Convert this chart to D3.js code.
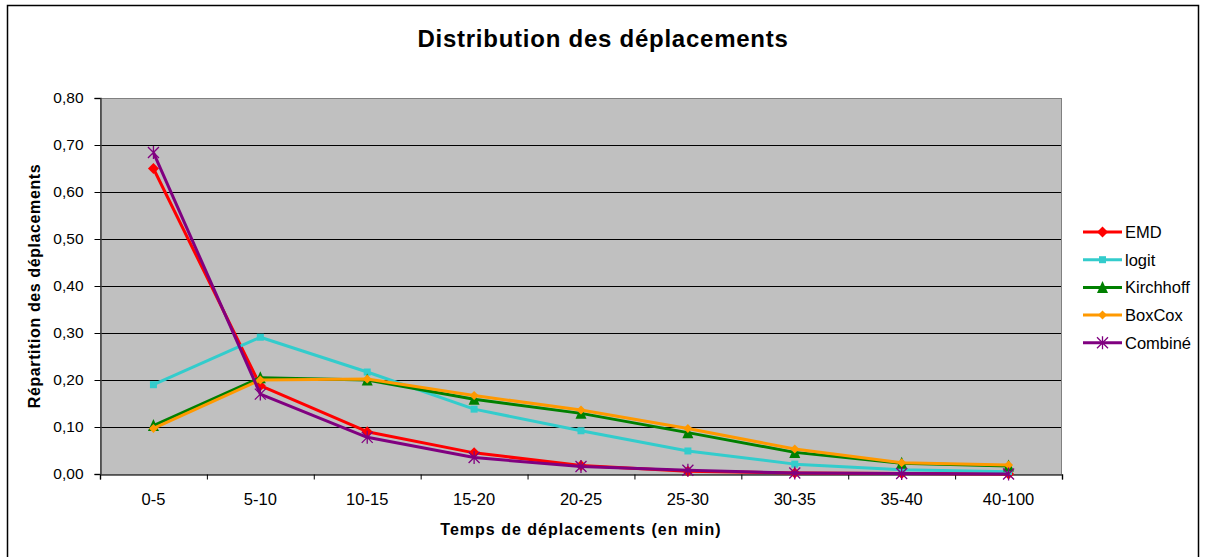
<!DOCTYPE html>
<html>
<head>
<meta charset="utf-8">
<script src="https://cdn.jsdelivr.net/npm/d3@7"></script>
<style>
  html, body { margin: 0; padding: 0; background: #fff; }
  svg { display: block; font-family: "Liberation Sans", Arial, sans-serif; }
</style>
</head>
<body>
<svg id="chart" width="1205" height="557"></svg>
<script>
// Travel-time classes (minutes)
const categories = ["0-5", "5-10", "10-15", "15-20", "20-25", "25-30", "30-35", "35-40", "40-100"];

// Share of trips per class, one array per model
const emd       = [0.650, 0.188, 0.090, 0.045, 0.018, 0.006, 0.002, 0.001, 0.000];
const logit     = [0.190, 0.291, 0.217, 0.138, 0.092, 0.049, 0.021, 0.009, 0.005];
const kirchhoff = [0.103, 0.205, 0.200, 0.159, 0.129, 0.088, 0.046, 0.023, 0.017];
const boxcox    = [0.097, 0.200, 0.202, 0.167, 0.136, 0.097, 0.053, 0.024, 0.019];
const combine   = [0.684, 0.170, 0.078, 0.035, 0.016, 0.008, 0.002, 0.001, 0.000];

const seriesNames = ["EMD", "logit", "Kirchhoff", "BoxCox", "Combiné"];
const yTicks = [0, 0.1, 0.2, 0.3, 0.4, 0.5, 0.6, 0.7, 0.8];

const series = [
  { name: seriesNames[0], values: emd,       color: "#FF0000", marker: "diamond",  size: 11 },
  { name: seriesNames[1], values: logit,     color: "#33CCCC", marker: "square",   size: 7 },
  { name: seriesNames[2], values: kirchhoff, color: "#008000", marker: "triangle", size: 11 },
  { name: seriesNames[3], values: boxcox,    color: "#FF9900", marker: "diamond",  size: 9 },
  { name: seriesNames[4], values: combine,   color: "#800080", marker: "star",     size: 11 }
];

const svg = d3.select("#chart");

// Outer chart frame
svg.append("rect")
  .attr("x", 7.5).attr("y", 5.5)
  .attr("width", 1191).attr("height", 553)
  .attr("fill", "#fff").attr("stroke", "#000").attr("stroke-width", 1.5);

const plot = { left: 100, top: 98, right: 1062, bottom: 474 };

const x = d3.scaleBand().domain(categories).range([plot.left, plot.right]).padding(0);
const xc = d => x(d) + x.bandwidth() / 2;
const y = d3.scaleLinear().domain([0, 0.8]).range([plot.bottom, plot.top]);

// Plot background
svg.append("rect")
  .attr("x", plot.left).attr("y", plot.top)
  .attr("width", plot.right - plot.left).attr("height", plot.bottom - plot.top)
  .attr("fill", "#C0C0C0");

// Horizontal gridlines
svg.append("g")
  .selectAll("line")
  .data(yTicks.filter(d => d > 0 && d < 0.8))
  .join("line")
  .attr("x1", plot.left).attr("x2", plot.right)
  .attr("y1", d => Math.round(y(d)) + 0.5).attr("y2", d => Math.round(y(d)) + 0.5)
  .attr("stroke", "#000").attr("stroke-width", 1);

// Plot border (grey)
svg.append("rect")
  .attr("x", plot.left + 0.5).attr("y", plot.top + 0.5)
  .attr("width", plot.right - plot.left - 1).attr("height", plot.bottom - plot.top)
  .attr("fill", "none").attr("stroke", "#808080").attr("stroke-width", 1);

// Y axis
const fmt = d => d3.format(".2f")(d).replace(".", ",");
const yAxis = svg.append("g")
  .attr("transform", `translate(${plot.left + 0.5},0)`)
  .call(d3.axisLeft(y).tickValues(yTicks).tickFormat(fmt).tickSize(6).tickPadding(11));
yAxis.select(".domain").attr("stroke", "#404040").attr("stroke-width", 1.5);
yAxis.selectAll(".tick line").attr("stroke", "#000");
yAxis.selectAll(".tick text").attr("font-size", 15.5).attr("fill", "#000")
  .attr("font-family", "'Liberation Sans', Arial, sans-serif");

// X axis: tick marks at class boundaries, labels at class centres
const xb = d3.scaleLinear().domain([0, categories.length]).range([plot.left, plot.right]);
const xAxis = svg.append("g")
  .attr("transform", `translate(0,${plot.bottom + 0.5})`)
  .call(d3.axisBottom(xb).tickValues(d3.range(categories.length + 1)).tickFormat("").tickSize(5));
xAxis.select(".domain").attr("stroke", "#404040").attr("stroke-width", 1.5);
xAxis.selectAll(".tick line").attr("stroke", "#000");

svg.append("g")
  .selectAll("text")
  .data(categories)
  .join("text")
  .attr("x", d => xc(d))
  .attr("y", 505)
  .attr("text-anchor", "middle")
  .attr("font-size", 16.5)
  .text(d => d);

// Titles
svg.append("text")
  .attr("x", 603).attr("y", 47)
  .attr("text-anchor", "middle")
  .attr("font-size", 24).attr("font-weight", "bold")
  .attr("letter-spacing", 0.75)
  .text("Distribution des déplacements");

svg.append("text")
  .attr("x", (plot.left + plot.right) / 2).attr("y", 535)
  .attr("text-anchor", "middle")
  .attr("font-size", 16).attr("font-weight", "bold")
  .attr("letter-spacing", 1)
  .text("Temps de déplacements (en min)");

svg.append("text")
  .attr("transform", `translate(40,${(plot.top + plot.bottom) / 2}) rotate(-90)`)
  .attr("text-anchor", "middle")
  .attr("font-size", 16).attr("font-weight", "bold")
  .attr("letter-spacing", 0.6)
  .text("Répartition des déplacements");

// Marker drawing
function drawMarker(g, s) {
  const r = s.size / 2;
  if (s.marker === "diamond") {
    g.append("path").attr("d", `M0,${-r}L${r},0L0,${r}L${-r},0Z`).attr("fill", s.color);
  } else if (s.marker === "square") {
    g.append("rect").attr("x", -r).attr("y", -r).attr("width", s.size).attr("height", s.size).attr("fill", s.color);
  } else if (s.marker === "triangle") {
    g.append("path").attr("d", `M0,${-r - 1}L${r},${r}L${-r},${r}Z`).attr("fill", s.color);
  } else if (s.marker === "star") {
    g.append("path")
      .attr("d", `M${-r},${-r}L${r},${r}M${-r},${r}L${r},${-r}M0,${-r - 1}L0,${r + 1}`)
      .attr("stroke", s.color).attr("stroke-width", 1.3).attr("fill", "none");
  }
}

// Series lines and markers
const line = d3.line().x((d, i) => xc(categories[i])).y(d => y(d));
series.forEach(s => {
  const g = svg.append("g");
  g.append("path")
    .attr("d", line(s.values))
    .attr("fill", "none")
    .attr("stroke", s.color)
    .attr("stroke-width", 3)
    .attr("stroke-linejoin", "round");
  g.selectAll("g.m")
    .data(s.values)
    .join("g")
    .attr("class", "m")
    .attr("transform", (d, i) => `translate(${xc(categories[i])},${y(d)})`)
    .each(function () { drawMarker(d3.select(this), s); });
});

// Legend
const legend = svg.append("g");
series.forEach((s, i) => {
  const ly = 232 + i * 27.7;
  const g = legend.append("g").attr("transform", `translate(0,${ly})`);
  g.append("line").attr("x1", 1083).attr("x2", 1122).attr("y1", 0).attr("y2", 0)
    .attr("stroke", s.color).attr("stroke-width", 3);
  const m = g.append("g").attr("transform", "translate(1102.5,0)");
  drawMarker(m, s);
  g.append("text").attr("x", 1125).attr("y", 6)
    .attr("font-size", 16.5).text(s.name);
});
</script>
</body>
</html>
